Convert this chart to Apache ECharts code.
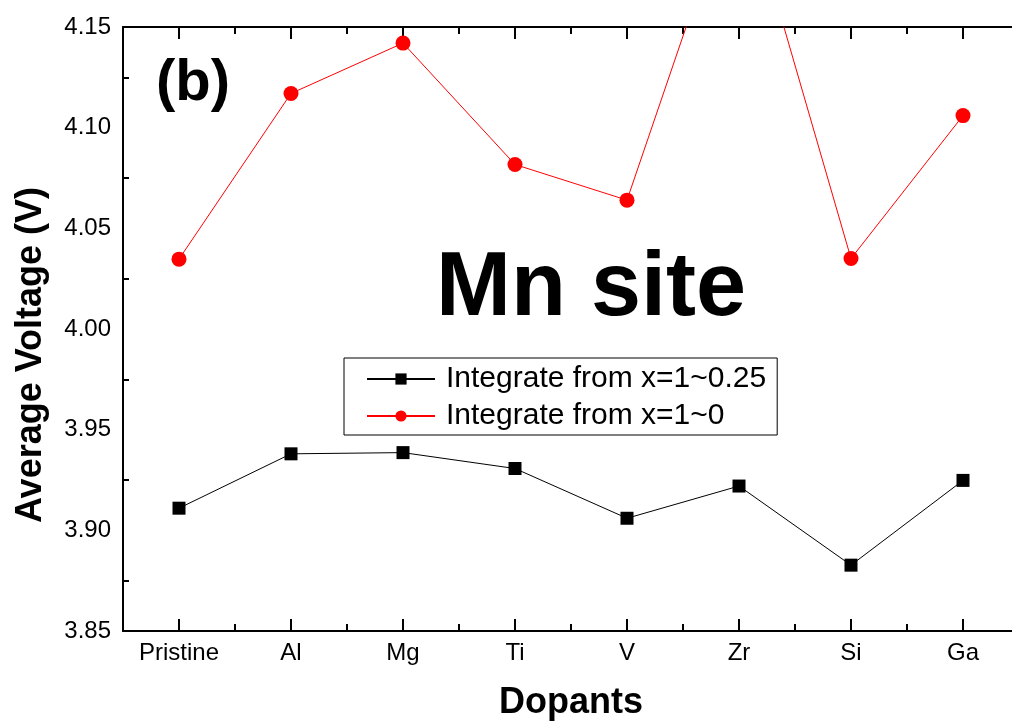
<!DOCTYPE html>
<html>
<head>
<meta charset="utf-8">
<script src="https://cdn.jsdelivr.net/npm/echarts@6/dist/echarts.min.js"></script>
<style>
  html, body { margin: 0; padding: 0; background: #fff; overflow: hidden; }
  /* the right frame of the original sits just past the picture edge */
  #chart { width: 1020px; height: 726px; }
</style>
</head>
<body>
<div id="chart"></div>
<script>
var dopants = ['Pristine', 'Al', 'Mg', 'Ti', 'V', 'Zr', 'Si', 'Ga'];
var voltQuarter = [3.911, 3.938, 3.9386, 3.9307, 3.906, 3.922, 3.8827, 3.9248];
var voltZero = [4.0347, 4.117, 4.142, 4.0817, 4.064, 4.227, 4.035, 4.106];

var font = 'Liberation Sans, Arial, sans-serif';
var chart = echarts.init(document.getElementById('chart'));

// major ticks sit on categories, minor ones on the boundaries
function xAx(pos, major, showLabel) {
    return {
        type: 'category',
        position: pos,
        data: dopants,
        boundaryGap: true,
        axisLine: { show: major, lineStyle: { color: '#000', width: 2 } },
        axisTick: {
            show: true,
            inside: true,
            alignWithLabel: major,
            length: major ? 12 : 7,
            lineStyle: { color: '#000', width: 2 }
        },
        axisLabel: {
            show: showLabel,
            color: '#000',
            fontFamily: font,
            fontSize: 24,
            margin: 10
        },
        splitLine: { show: false }
    };
}

function yAx(pos, showLabel) {
    return {
        type: 'value',
        position: pos,
        min: 3.85,
        max: 4.15,
        interval: 0.05,
        axisLine: { show: true, lineStyle: { color: '#000', width: 2 } },
        axisTick: { inside: true, length: 12, lineStyle: { color: '#000', width: 2 } },
        minorTick: { show: true, splitNumber: 2, length: 6, lineStyle: { color: '#000', width: 2 } },
        axisLabel: {
            show: showLabel,
            color: '#000',
            fontFamily: font,
            fontSize: 24,
            margin: 12,
            formatter: function (v) { return v.toFixed(2); }
        },
        splitLine: { show: false }
    };
}

var xMain = xAx('bottom', true, true);
xMain.name = 'Dopants';
xMain.nameLocation = 'middle';
xMain.nameGap = 54;
xMain.nameTextStyle = { color: '#000', fontFamily: font, fontSize: 36, fontWeight: 'bold' };

var option = {
    animation: false,
    backgroundColor: '#fff',
    grid: { left: 123, top: 27, right: 1, bottom: 92, containLabel: false },
    xAxis: [
        xMain,
        xAx('bottom', false, false),
        xAx('top', true, false),
        xAx('top', false, false)
    ],
    yAxis: [
        yAx('left', true),
        yAx('right', false)
    ],
    legend: {
        orient: 'vertical',
        left: 344,
        top: 358,
        borderColor: '#000',
        borderWidth: 1,
        padding: [6, 11, 4, 22],
        itemGap: 7,
        itemWidth: 68,
        itemHeight: 14,
        textStyle: { color: '#000', fontFamily: font, fontSize: 30, padding: [0, 0, 0, 6] },
        data: ['Integrate from x=1~0.25', 'Integrate from x=1~0']
    },
    graphic: [
        {
            type: 'text',
            left: 156,
            top: 55,
            style: { text: '(b)', font: 'bold 58px ' + font, fill: '#000' }
        },
        {
            type: 'text',
            left: 436,
            top: 245,
            style: { text: 'Mn site', font: 'bold 90px ' + font, fill: '#000' }
        },
        {
            type: 'text',
            x: 31,
            y: 355,
            rotation: Math.PI / 2,
            style: {
                text: 'Average Voltage (V)',
                font: 'bold 36px ' + font,
                fill: '#000',
                textAlign: 'center',
                textVerticalAlign: 'middle'
            }
        }
    ],
    series: [
        {
            name: 'Integrate from x=1~0.25',
            type: 'line',
            data: voltQuarter,
            symbol: 'rect',
            symbolSize: 13,
            itemStyle: { color: '#000' },
            lineStyle: { color: '#000', width: 1 }
        },
        {
            name: 'Integrate from x=1~0',
            type: 'line',
            data: voltZero,
            symbol: 'circle',
            symbolSize: 15,
            clip: true,
            itemStyle: { color: '#ff0000' },
            lineStyle: { color: '#ff0000', width: 1 }
        }
    ]
};

chart.setOption(option);
</script>
</body>
</html>
